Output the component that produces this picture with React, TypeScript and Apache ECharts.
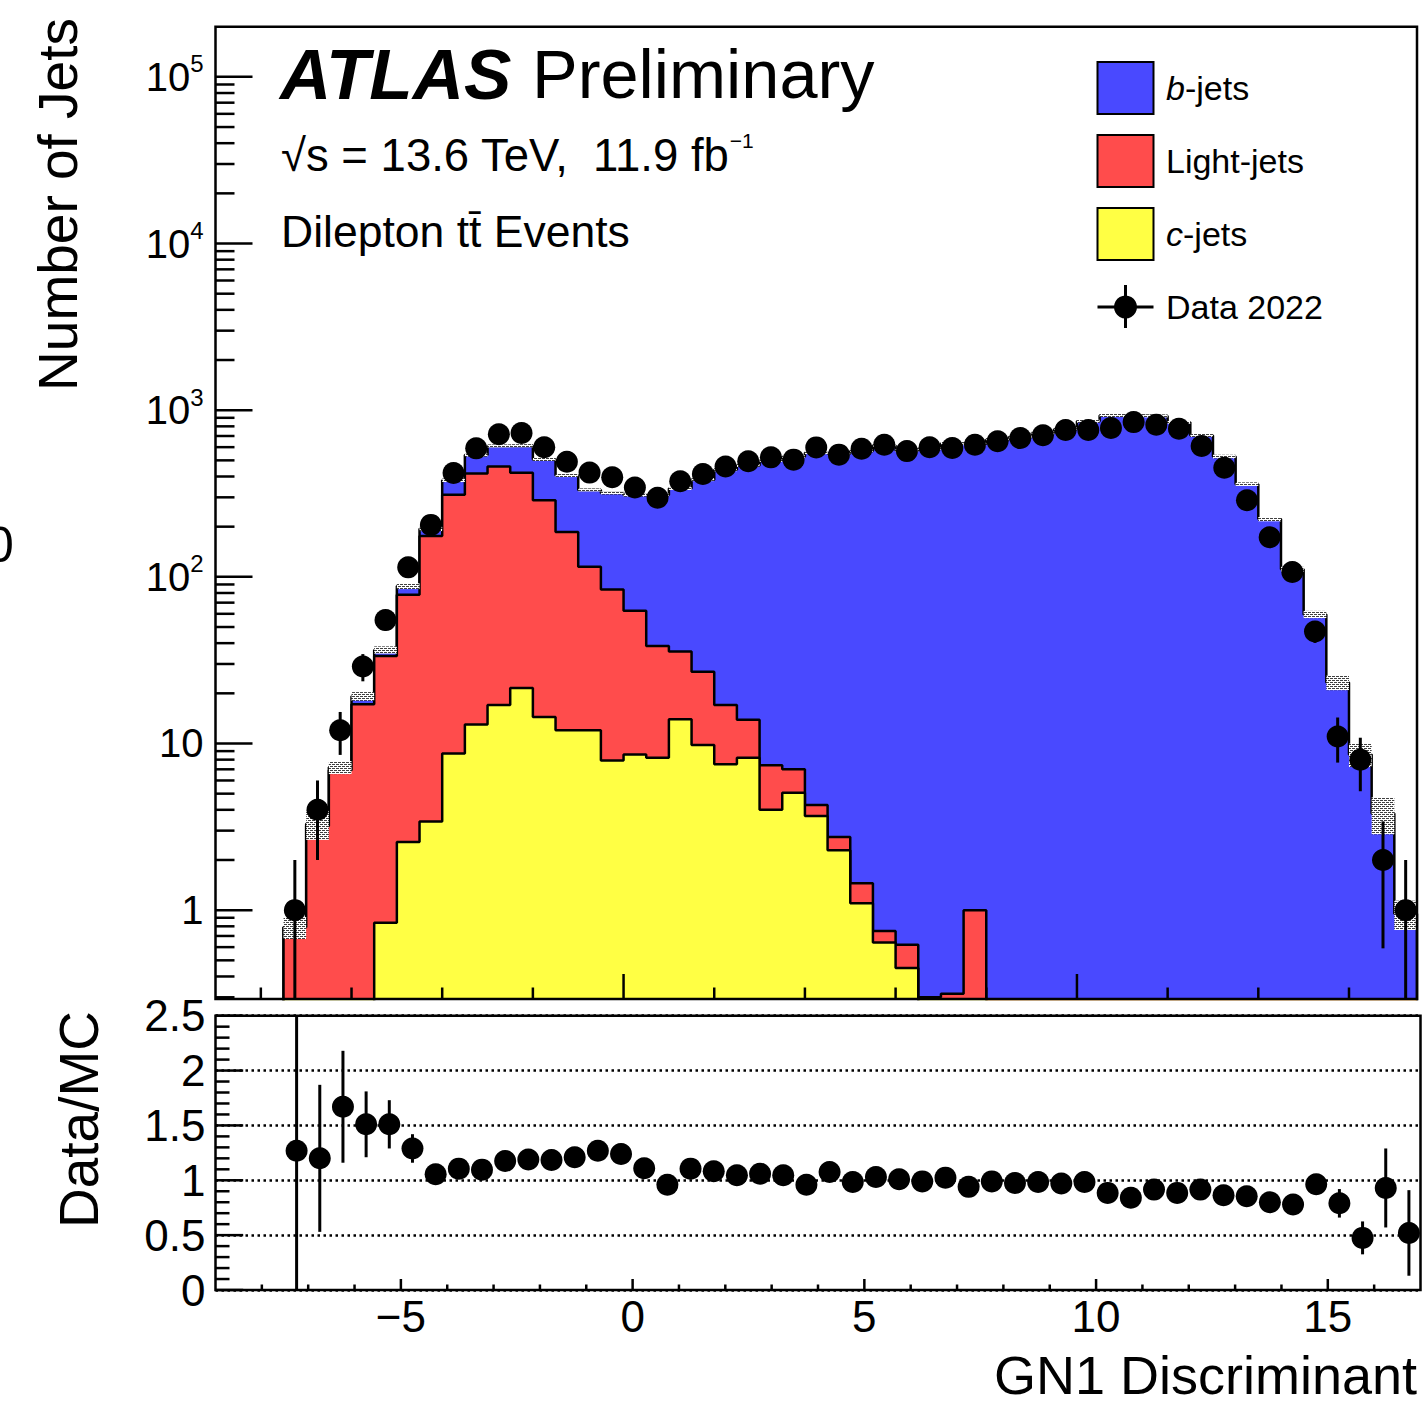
import React, { useEffect, useRef } from "react";
import * as echarts from "echarts";

const FONT = "'Liberation Sans', Arial, Helvetica, sans-serif";

// ---------------- data ----------------
const binLow = [
  -7.5, -7, -6.5, -6, -5.5, -5, -4.5, -4, -3.5, -3, -2.5, -2, -1.5, -1, -0.5,
  0, 0.5, 1, 1.5, 2, 2.5, 3, 3.5, 4, 4.5, 5, 5.5, 6, 6.5, 7, 7.5, 8, 8.5, 9,
  9.5, 10, 10.5, 11, 11.5, 12, 12.5, 13, 13.5, 14, 14.5, 15, 15.5, 16, 16.5, 17,
];
const BIN_W = 0.5;

const bJets = [
  0, 0.1, 0.3, 2.0, 3.0, 10, 18, 69, 121, 151, 191, 218, 219, 217, 235,
  247, 271, 303, 356, 422, 452, 492, 519, 552, 546, 568, 613, 573, 586, 631,
  625, 667, 691, 730, 772, 859, 930, 927, 923, 845, 706, 527, 360, 222, 111,
  59.5, 23.2, 8.6, 3.8, 0.95,
];
const lightJets = [
  0.79, 3.2, 6.9, 17.2, 32.6, 75.4, 172.6, 302, 404, 442, 399.5, 273.6, 174,
  103, 76, 53.9, 30.3, 21.7, 17.1, 9.5, 5.7, 3.4, 1.94, 0.6, 0.46, 0.35, 0.11,
  0.17, 0.3, 0.315, 1.0, 0, 0, 0, 0, 0, 0, 0, 0, 0, 0, 0, 0, 0, 0, 0, 0, 0, 0, 0,
];
const cJets = [
  0, 0, 0, 0, 0.84, 2.56, 3.4, 8.7, 13, 17, 21.5, 14.4, 12, 12, 7.9, 8.6, 8.2,
  14, 9.8, 7.5, 8.2, 4.0, 5.06, 3.67, 2.29, 1.1, 0.64, 0.45, 0, 0, 0, 0, 0, 0,
  0, 0, 0, 0, 0, 0, 0, 0, 0, 0, 0, 0, 0, 0, 0, 0,
];
const mcRelUnc = [
  0.15, 0.2, 0.09, 0.06, 0.05, 0.04, 0.03, 0.025, 0.02, 0.02, 0.02, 0.02, 0.02,
  0.02, 0.02, 0.02, 0.02, 0.02, 0.02, 0.02, 0.02, 0.02, 0.02, 0.02, 0.02, 0.02,
  0.02, 0.02, 0.02, 0.02, 0.02, 0.02, 0.02, 0.02, 0.02, 0.02, 0.02, 0.02, 0.02,
  0.02, 0.02, 0.025, 0.025, 0.03, 0.035, 0.05, 0.1, 0.16, 0.25, 0.2,
];
const dataCounts = [
  1, 4, 12, 29, 55, 114, 205, 420, 590, 718, 729, 600, 490, 422, 396, 344, 298,
  375, 414, 459, 494, 521, 505, 598, 541, 587, 620, 568, 600, 593, 620, 651,
  681, 708, 760, 760, 781, 848, 817, 773, 610, 451, 288, 173, 107, 47, 11, 8, 2, 1,
];
const dataErr = [
  1, 2, 3.46, 5.39, 7.42, 10.7, 14.3, 20.5, 24.3, 26.8, 27.0, 24.5, 22.1, 20.5,
  19.9, 18.5, 17.3, 19.4, 20.3, 21.4, 22.2, 22.8, 22.5, 24.5, 23.3, 24.2, 24.9,
  23.8, 24.5, 24.4, 24.9, 25.5, 26.1, 26.6, 27.6, 27.6, 27.9, 29.1, 28.6, 27.8,
  24.7, 21.2, 17.0, 13.2, 10.3, 6.86, 3.32, 2.83, 1.41, 1.0,
];
const ratio = [
  1.27, 1.2, 1.67, 1.51, 1.51, 1.29, 1.055, 1.106, 1.097, 1.176, 1.19, 1.185,
  1.21, 1.27, 1.24, 1.11, 0.96, 1.106, 1.082, 1.045, 1.06, 1.045, 0.96, 1.076,
  0.985, 1.03, 1.01, 0.99, 1.024, 0.94, 0.99, 0.976, 0.985, 0.97, 0.985, 0.885,
  0.84, 0.915, 0.885, 0.915, 0.864, 0.855, 0.8, 0.78, 0.964, 0.79, 0.475, 0.93, 0.52,
];
const ratioErr = [
  1.27, 0.67, 0.51, 0.3, 0.22, 0.13, 0.08, 0.06, 0.05, 0.05, 0.05, 0.05, 0.055,
  0.06, 0.06, 0.06, 0.055, 0.055, 0.05, 0.05, 0.05, 0.045, 0.045, 0.045, 0.045,
  0.045, 0.04, 0.04, 0.04, 0.04, 0.04, 0.04, 0.04, 0.035, 0.035, 0.03, 0.03,
  0.03, 0.03, 0.035, 0.035, 0.04, 0.05, 0.06, 0.09, 0.13, 0.15, 0.36, 0.39,
];

// tick values
const upperYDecades = [1, 10, 100, 1000, 10000, 100000];
const upperXMajor = [0, 10];
const upperXMinor = [-8, -6, -4, -2, 2, 4, 6, 8, 12, 14, 16];
const lowerXLabels = [-5, 0, 5, 10, 15];
const lowerXMinor = [-8, -7, -6, -4, -3, -2, -1, 1, 2, 3, 4, 6, 7, 8, 9, 11, 12, 13, 14, 16];
const lowerYMajor = [0, 0.5, 1, 1.5, 2, 2.5];
const lowerYMinor = [0.1, 0.2, 0.3, 0.4, 0.6, 0.7, 0.8, 0.9, 1.1, 1.2, 1.3, 1.4, 1.6, 1.7, 1.8, 1.9, 2.1, 2.2, 2.3, 2.4];

const legendLabels = ["{i|b}{n|-jets}", "{n|Light-jets}", "{i|c}{n|-jets}", "{n|Data 2022}"];

// ---------------- style ----------------
const BLUE = "#4949FF";
const RED = "#FF4C4C";
const YELLOW = "#FFFF44";
const Y_MIN = 0.293;
const Y_MAX = 2e5;
const FLOOR = 0.05;

const G1 = { left: 215.5, top: 26.7, width: 1201.5, height: 972.3 };
const G2 = { left: 215.5, top: 1015.7, width: 1205, height: 274.3 };

function stepSeriesData(vals: number[]) {
  const n = vals.length;
  const end = binLow[n - 1] + BIN_W;
  const pts: number[][] = [[binLow[0], FLOOR]];
  for (let i = 0; i < n; i++) pts.push([binLow[i], vals[i] > 0 ? vals[i] : FLOOR]);
  pts.push([end, vals[n - 1] > 0 ? vals[n - 1] : FLOOR]);
  pts.push([end, FLOOR]);
  return pts;
}

function makeHatch() {
  const c = document.createElement("canvas");
  c.width = 4;
  c.height = 4;
  const g = c.getContext("2d")!;
  g.fillStyle = "#ffffff";
  g.fillRect(0, 0, 4, 4);
  g.fillStyle = "#404040";
  g.fillRect(0, 0, 3, 1);
  g.fillRect(2, 2, 2, 1);
  g.fillRect(0, 2, 1, 1);
  return c;
}

function tickItems(xMaj: number[], xMajLen: number, xMin: number[], xMinLen: number,
  yMaj: number[], yMajLen: number, yMin: number[], yMinLen: number) {
  const out: number[][] = [];
  xMaj.forEach((v) => out.push([0, v, xMajLen, 0, 1]));
  xMin.forEach((v) => out.push([0, v, xMinLen, 0, 1]));
  yMaj.forEach((v) => out.push([1, v, yMajLen, 0, 1]));
  yMin.forEach((v) => out.push([1, v, yMinLen, 0, 1]));
  return out;
}

function renderTick(params: any, api: any) {
  const kind = api.value(0);
  const v = api.value(1);
  const len = api.value(2);
  const cs = params.coordSys;
  const st = { stroke: "#000", lineWidth: 2.5 };
  if (kind === 0) {
    const px = api.coord([v, 1])[0];
    const yb = cs.y + cs.height;
    return { type: "line", shape: { x1: px, y1: yb, x2: px, y2: yb - len }, style: st };
  }
  const py = api.coord([0, v])[1];
  return { type: "line", shape: { x1: cs.x, y1: py, x2: cs.x + len, y2: py }, style: st };
}

function errBar(params: any, api: any) {
  const x = api.value(0);
  const v = api.value(1);
  const e = api.value(2);
  const lo = Math.max(v - e, 0.001);
  const a = api.coord([x, v + e]);
  const b = api.coord([x, lo]);
  return { type: "line", shape: { x1: a[0], y1: a[1], x2: b[0], y2: b[1] }, style: { stroke: "#000", lineWidth: 3 } };
}

function buildOption() {
  const stackC = cJets.slice();
  const stackLC = cJets.map((c, i) => c + lightJets[i]);
  const stackAll = stackLC.map((v, i) => v + bJets[i]);
  const hatch = { image: makeHatch(), repeat: "repeat" };

  const yMinorLog: number[] = [];
  for (let k = -1; k <= 5; k++) {
    for (let m = 2; m <= 9; m++) {
      const v = m * Math.pow(10, k);
      if (v > Y_MIN && v < Y_MAX * 0.999) yMinorLog.push(v);
    }
  }

  const histLine = (name: string, vals: number[], color: string, z: number) => ({
    name,
    type: "line",
    xAxisIndex: 0,
    yAxisIndex: 0,
    data: stepSeriesData(vals),
    step: "end",
    symbol: "none",
    showSymbol: false,
    clip: true,
    silent: true,
    z,
    lineStyle: { color: "#000", width: 2.5 },
    areaStyle: { color, opacity: 1, origin: "start" },
  });

  const txt = (extra: any) => ({ type: "text", silent: true, z: 120, ...extra });

  const legendY = [88, 161, 234, 307];
  const legendColors = [BLUE, RED, YELLOW];

  const graphic: any[] = [
    // frames
    { type: "rect", silent: true, z: 110, shape: { x: G1.left, y: G1.top, width: G1.width, height: G1.height }, style: { fill: "none", stroke: "#000", lineWidth: 2.5 } },
    { type: "rect", silent: true, z: 110, shape: { x: G2.left, y: G2.top, width: G2.width, height: G2.height }, style: { fill: "none", stroke: "#000", lineWidth: 2.5 } },
    // ATLAS label
    txt({ x: 280, y: 74, style: { text: "ATLAS", fontFamily: FONT, fontSize: 71, fontWeight: "bold", fontStyle: "italic", fill: "#000", verticalAlign: "middle" } }),
    txt({ x: 532, y: 74, style: { text: "Preliminary", fontFamily: FONT, fontSize: 68.5, fill: "#000", verticalAlign: "middle" } }),
    txt({
      x: 281, y: 155,
      style: {
        text: "{n|\u221As = 13.6 TeV,\u00A0 11.9 fb}{s|\u22121}",
        verticalAlign: "middle",
        rich: {
          n: { fontFamily: FONT, fontSize: 45.5, fill: "#000", lineHeight: 50 },
          s: { fontFamily: FONT, fontSize: 21, fill: "#000", lineHeight: 24, verticalAlign: "top" },
        },
      },
    }),
    txt({ x: 281, y: 231, style: { text: "Dilepton tt\u0304 Events", fontFamily: FONT, fontSize: 44.5, fill: "#000", verticalAlign: "middle" } }),
    // axis titles
    txt({ x: 58, y: 18, rotation: Math.PI / 2, style: { text: "Number of Jets", fontFamily: FONT, fontSize: 55, fill: "#000", align: "right", verticalAlign: "middle" } }),
    txt({ x: 79, y: 1011, rotation: Math.PI / 2, style: { text: "Data/MC", fontFamily: FONT, fontSize: 55, fill: "#000", align: "right", verticalAlign: "middle" } }),
    txt({ x: 1417, y: 1375, style: { text: "GN1 Discriminant", fontFamily: FONT, fontSize: 54, fill: "#000", align: "right", verticalAlign: "middle" } }),
    // cropped glyph at the left edge (as in the reference)
    txt({ x: -14, y: 545, style: { text: "0", fontFamily: FONT, fontSize: 50, fill: "#000", verticalAlign: "middle" } }),
  ];

  // legend
  legendColors.forEach((c, i) => {
    graphic.push({
      type: "rect", silent: true, z: 120,
      shape: { x: 1097.5, y: legendY[i] - 26, width: 56, height: 52 },
      style: { fill: c, stroke: "#000", lineWidth: 2 },
    });
  });
  graphic.push({ type: "line", silent: true, z: 120, shape: { x1: 1097.5, y1: legendY[3], x2: 1153.5, y2: legendY[3] }, style: { stroke: "#000", lineWidth: 3 } });
  graphic.push({ type: "line", silent: true, z: 120, shape: { x1: 1125.5, y1: legendY[3] - 22, x2: 1125.5, y2: legendY[3] + 21 }, style: { stroke: "#000", lineWidth: 3 } });
  graphic.push({ type: "circle", silent: true, z: 121, shape: { cx: 1125.5, cy: legendY[3], r: 11.5 }, style: { fill: "#000" } });
  legendLabels.forEach((t, i) => {
    graphic.push(txt({
      x: 1166, y: legendY[i],
      style: {
        text: t,
        verticalAlign: "middle",
        rich: {
          n: { fontFamily: FONT, fontSize: 34, fill: "#000" },
          i: { fontFamily: FONT, fontSize: 34, fill: "#000", fontStyle: "italic" },
        },
      },
    }));
  });

  return {
    animation: false,
    backgroundColor: "#ffffff",
    grid: [
      { ...G1, containLabel: false },
      { ...G2, containLabel: false },
    ],
    xAxis: [
      {
        type: "value", gridIndex: 0, min: -9, max: 17.5,
        axisLine: { show: false }, axisTick: { show: false }, axisLabel: { show: false }, splitLine: { show: false },
      },
      {
        type: "value", gridIndex: 1, min: -9, max: 17,
        axisLine: { show: false }, axisTick: { show: false }, splitLine: { show: false },
        axisLabel: {
          customValues: lowerXLabels,
          formatter: (v: number) => (v < 0 ? "\u2212" + Math.abs(v) : String(v)),
          fontFamily: FONT, fontSize: 44, color: "#000", margin: 26, verticalAlign: "middle",
        },
      },
    ],
    yAxis: [
      {
        type: "log", logBase: 10, gridIndex: 0, min: Y_MIN, max: Y_MAX,
        axisLine: { show: false }, axisTick: { show: false }, splitLine: { show: false },
        axisLabel: {
          margin: 12, color: "#000", fontFamily: FONT, fontSize: 40,
          formatter: (v: number) => {
            const l = Math.log10(v);
            const r = Math.round(l);
            if (Math.abs(l - r) > 1e-6 || r < 0) return "";
            if (r === 0) return "1";
            if (r === 1) return "10";
            return "{b|10}{s|" + r + "}";
          },
          rich: {
            b: { fontFamily: FONT, fontSize: 40, color: "#000", lineHeight: 50 },
            s: { fontFamily: FONT, fontSize: 24, color: "#000", lineHeight: 24, verticalAlign: "top" },
          },
        },
      },
      {
        type: "value", gridIndex: 1, min: 0, max: 2.5, interval: 0.5,
        axisLine: { show: false }, axisTick: { show: false },
        splitLine: { show: true, lineStyle: { color: "#000", width: 2.5, type: [2.5, 3.5] } },
        axisLabel: {
          margin: 10, color: "#000", fontFamily: FONT, fontSize: 44,
          formatter: (v: number) => String(v),
        },
      },
    ],
    graphic,
    series: [
      histLine("b-jets", stackAll, BLUE, 2),
      histLine("Light-jets", stackLC, RED, 3),
      histLine("c-jets", stackC, YELLOW, 4),
      {
        name: "MC unc.", type: "custom", xAxisIndex: 0, yAxisIndex: 0, z: 5, clip: true, silent: true,
        data: binLow.map((x, i) => [x, stackAll[i], mcRelUnc[i]]),
        renderItem: (params: any, api: any) => {
          const x0 = api.value(0);
          const tot = api.value(1);
          const u = api.value(2);
          const p1 = api.coord([x0, tot * (1 + u)]);
          const p2 = api.coord([x0 + BIN_W, tot * (1 - u)]);
          return {
            type: "rect",
            shape: { x: p1[0], y: p1[1], width: p2[0] - p1[0], height: p2[1] - p1[1] },
            style: { fill: hatch },
          };
        },
      },
      {
        name: "Data err", type: "custom", xAxisIndex: 0, yAxisIndex: 0, z: 6, clip: true, silent: true,
        data: binLow.map((x, i) => [x + BIN_W / 2, dataCounts[i], dataErr[i]]),
        renderItem: errBar,
      },
      {
        name: "Data 2022", type: "scatter", xAxisIndex: 0, yAxisIndex: 0, z: 7, silent: true,
        symbol: "circle", symbolSize: 22, itemStyle: { color: "#000", opacity: 1 },
        data: binLow.map((x, i) => [x + BIN_W / 2, dataCounts[i]]),
      },
      {
        name: "ticks upper", type: "custom", xAxisIndex: 0, yAxisIndex: 0, z: 8, silent: true,
        encode: { x: 3, y: 4 },
        data: tickItems(upperXMajor, 25, upperXMinor, 11.5, upperYDecades, 37, yMinorLog, 19),
        renderItem: renderTick,
      },
      {
        name: "Ratio err", type: "custom", xAxisIndex: 1, yAxisIndex: 1, z: 6, clip: true, silent: true,
        data: ratio.map((r, i) => [binLow[i] + BIN_W / 2, r, ratioErr[i]]),
        renderItem: errBar,
      },
      {
        name: "Ratio", type: "scatter", xAxisIndex: 1, yAxisIndex: 1, z: 7, silent: true,
        symbol: "circle", symbolSize: 22, itemStyle: { color: "#000", opacity: 1 },
        data: ratio.map((r, i) => [binLow[i] + BIN_W / 2, r]),
      },
      {
        name: "ticks lower", type: "custom", xAxisIndex: 1, yAxisIndex: 1, z: 8, silent: true,
        encode: { x: 3, y: 4 },
        data: tickItems(lowerXLabels, 11, lowerXMinor, 5.5, lowerYMajor, 27.7, lowerYMinor, 14),
        renderItem: renderTick,
      },
    ],
  };
}

export default function App() {
  const ref = useRef<HTMLDivElement>(null);
  useEffect(() => {
    if (!ref.current) return;
    const chart = echarts.init(ref.current, undefined, { renderer: "svg" });
    chart.setOption(buildOption() as any);
    return () => chart.dispose();
  }, []);
  return (
    <div
      ref={ref}
      style={{ position: "absolute", left: 0, top: 0, width: 1424, height: 1406, background: "#fff" }}
    />
  );
}
